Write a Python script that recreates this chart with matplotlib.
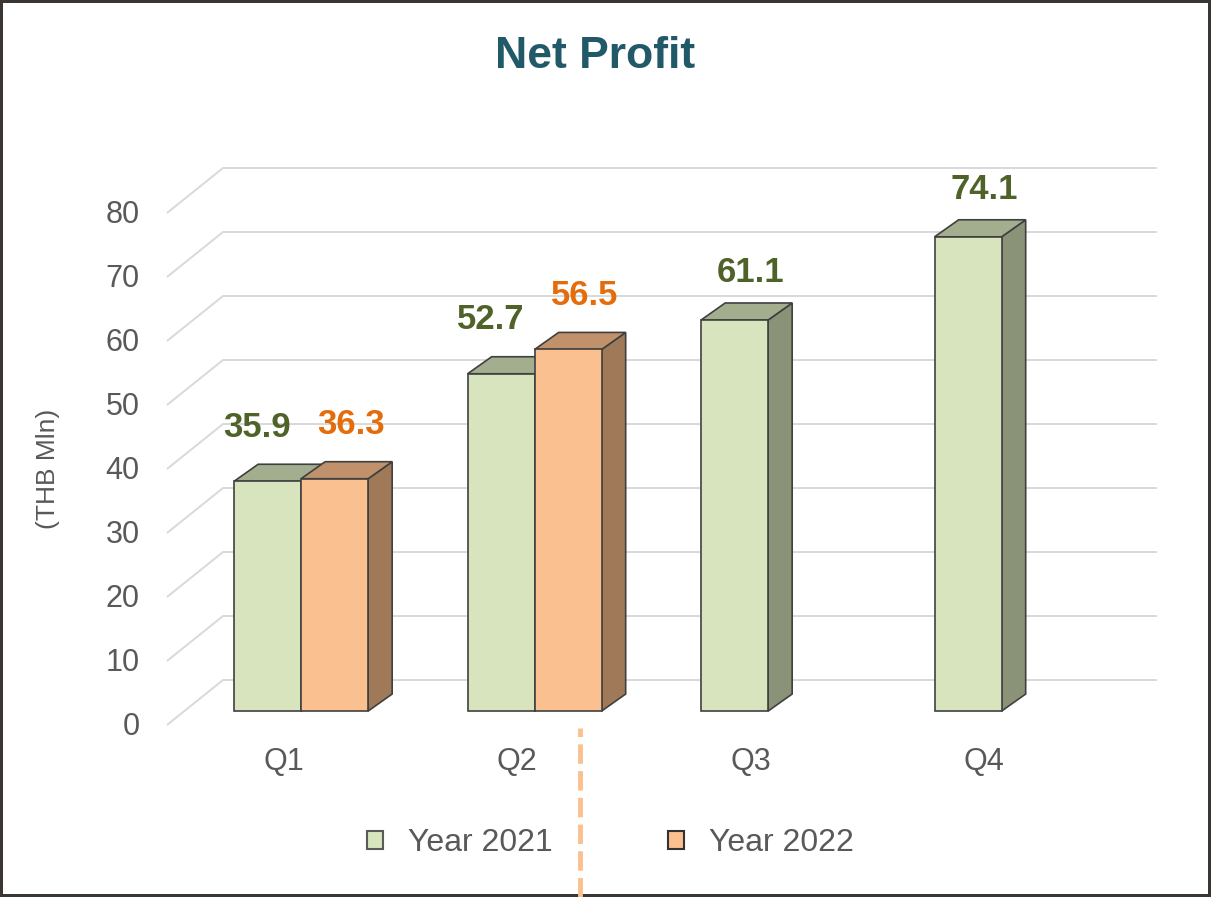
import matplotlib
matplotlib.use("Agg")
import matplotlib.pyplot as plt
from matplotlib.patches import Polygon, Patch
import numpy as np

plt.rcParams['font.family'] = ['Liberation Sans', 'DejaVu Sans']

# data
quarters = ['Q1', 'Q2', 'Q3', 'Q4']
year2021 = [35.9, 52.7, 61.1, 74.1]
year2022 = [36.3, 56.5, np.nan, np.nan]
series_names = ['Year 2021', 'Year 2022']
yticks = [0, 10, 20, 30, 40, 50, 60, 70, 80]

# colours: front, top, side, label
green = ('#D7E4BD', '#A3AE8F', '#8A9378', '#4F6228')
orange = ('#FAC090', '#C1916B', '#A07A58', '#E46C0A')
grey = '#595959'

# fake 3d geometry (category units / value units)
floor_dx, floor_dy = 0.24, 7.03   # depth of the floor
bar_pos = 0.31                    # bars sit this far into the floor
bar_w = 0.287
bar_dx, bar_dy = 0.103, 2.66      # depth of a bar

fig = plt.figure(figsize=(12.11, 8.97), dpi=100)
fig.patch.set_facecolor('white')
fig.patch.set_edgecolor('#3B3631')
fig.patch.set_linewidth(3)
ax = fig.add_axes([0, 0, 1, 1])
ax.set_xlim(-0.715, 4.471)
ax.set_ylim(-26.875, 113.28)
ax.axis('off')

# wall gridlines
ncat = len(quarters)
for v in yticks:
    ax.plot([0, floor_dx, ncat + floor_dx], [v, v + floor_dy, v + floor_dy],
            color='#D9D9D9', lw=1.4, zorder=1, solid_capstyle='butt')
    ax.text(-0.116, v - 0.3, str(v), ha='right', va='center', fontsize=22, color=grey)

ax.text(-0.51, 40, '(THB Mln)', rotation=90, ha='center', va='center',
        fontsize=19, color=grey)

def draw_bar(x0, val, cols, z, lab_dx, lab_dy):
    b = bar_pos * floor_dy
    top = b + val
    x1 = x0 + bar_w
    side = Polygon([(x1, b), (x1 + bar_dx, b + bar_dy), (x1 + bar_dx, top + bar_dy), (x1, top)],
                   closed=True, fc=cols[2], ec='#404040', lw=1.2, zorder=z)
    lid = Polygon([(x0, top), (x0 + bar_dx, top + bar_dy), (x1 + bar_dx, top + bar_dy), (x1, top)],
                  closed=True, fc=cols[1], ec='#404040', lw=1.2, zorder=z)
    ax.add_patch(side)
    ax.add_patch(lid)
    ax.bar(x0, val, width=bar_w, bottom=b, align='edge', color=cols[0],
           edgecolor='#404040', linewidth=1.2, zorder=z + 1)
    ax.text(x0 + bar_w / 2 + lab_dx, top + bar_dy + lab_dy, f'{val:.1f}',
            ha='center', va='center', fontsize=25, fontweight='bold', color=cols[3], zorder=20)

z = 3
for i in range(ncat):
    c = i + 0.5 + bar_pos * floor_dx
    paired = not np.isnan(year2022[i])
    if paired:
        draw_bar(c - bar_w, year2021[i], green, z, -0.045, 5.8)
        draw_bar(c, year2022[i], orange, z + 3, 0.07, 5.8)
        z += 6
    else:
        draw_bar(c - bar_w, year2021[i], green, z, 0.07, 4.7)
        z += 3
    ax.text(i + 0.5, -5.8, quarters[i], ha='center', va='center', fontsize=22, color=grey)

# dashed divider
ax.axvline(1.769, ymin=0, ymax=0.188, color='#FAC090', lw=3.5, ls=(0, (4, 1.5)), zorder=0)

fig.text(595 / 1211, 1 - 56 / 897, 'Net Profit', ha='center', va='center',
         fontsize=32, fontweight='bold', color='#215968')

handles = [Patch(facecolor=green[0], edgecolor='#5A5A5A', linewidth=1.5),
           Patch(facecolor=orange[0], edgecolor='#333333', linewidth=1.5)]
leg = fig.legend(handles, series_names, loc='center', bbox_to_anchor=(0.504, 0.06),
                 ncol=2, frameon=False, fontsize=23, handlelength=0.52, handleheight=0.52,
                 handletextpad=0.78, columnspacing=3.6)
for t in leg.get_texts():
    t.set_color(grey)

fig.savefig('out.png', dpi=100, facecolor=fig.get_facecolor(), edgecolor=fig.get_edgecolor())
